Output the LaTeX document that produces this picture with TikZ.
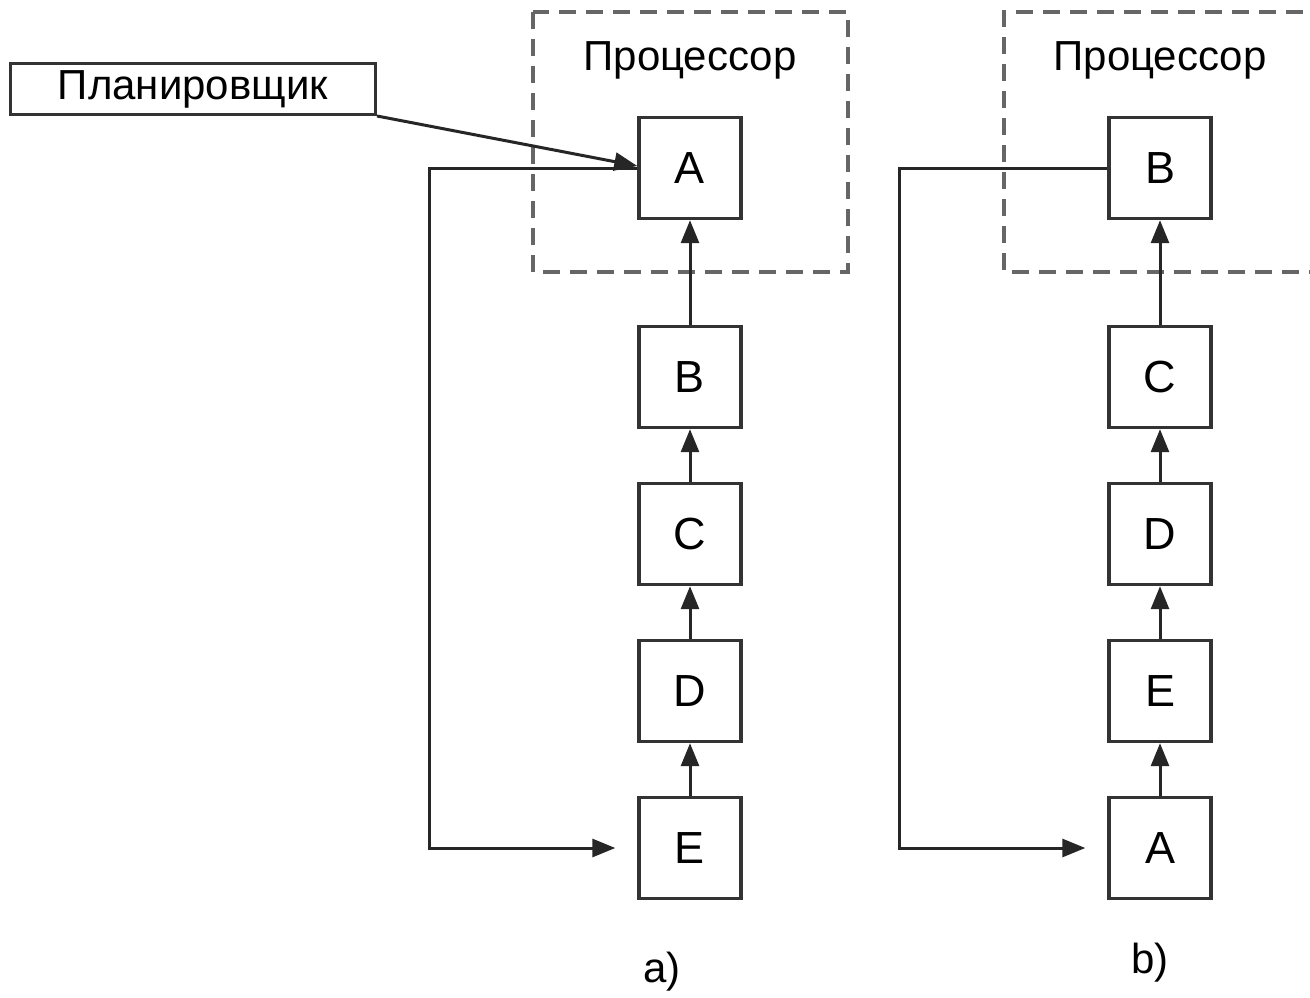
\documentclass[tikz,border=0pt]{standalone}
\usepackage{fontspec}
\setmainfont{Liberation Sans}
\usetikzlibrary{arrows.meta}
\tikzset{box/.style={draw=black!80, line width=3.4pt, minimum width=102pt, minimum height=101pt, inner sep=0pt, font=\fontsize{45}{50}\selectfont},
         lbl/.style={font=\fontsize{42}{48}\selectfont},
         arr/.style={draw=black!85, line width=3pt, -{Triangle[length=23pt,width=18pt]}},
         cpu/.style={draw=black!60, line width=3.4pt, dash pattern=on 17pt off 10pt}}

\begin{document}
\begin{tikzpicture}[x=1pt,y=-1pt]
                    \clip (0,0) rectangle (1310,998);
                    \fill[white] (0,0) rectangle (1310,998);
                    % processor frames
                    \draw[cpu] (533,12) rectangle (848,272);
                    \draw[cpu] (1330,12) -- (1004,12) -- (1004,272) -- (1330,272);
                    \node[lbl] (procA) at (690,60) {Процессор};
                    \node[lbl] (procB) at (1160,60) {Процессор};
                    % queues
                    \foreach \y/\l/\r[count=\n] in {168/A/B,377/B/C,534/C/D,691/D/E,848/E/A}{
                        \node[box] (a\n) at (690,\y) {\l};
                        \node[box] (b\n) at (1160,\y) {\r};
                        }
                    \foreach \n[count=\m] in {2,...,5}{
                        \draw[arr] (a\n.north) -- (a\m.south);
                        \draw[arr] (b\n.north) -- (b\m.south);
                        }
                    \node[draw=black!80, line width=3pt, minimum width=365pt, minimum height=51pt, lbl] (sched) at (193,89) {Планировщик};
                    \draw[arr] (sched.south east) -- ([yshift=2pt]a1.west);
                    \draw[arr] (a1.west) -- ++(-208,0) |- ([xshift=-22pt]a5.west);
                    \draw[arr] (b1.west) -- ++(-208,0) |- ([xshift=-22pt]b5.west);
                    \node[lbl] (capA) at (662,972) {a)};
                    \node[lbl] (capB) at (1150,963) {b)};
                \end{tikzpicture}
\end{document}
